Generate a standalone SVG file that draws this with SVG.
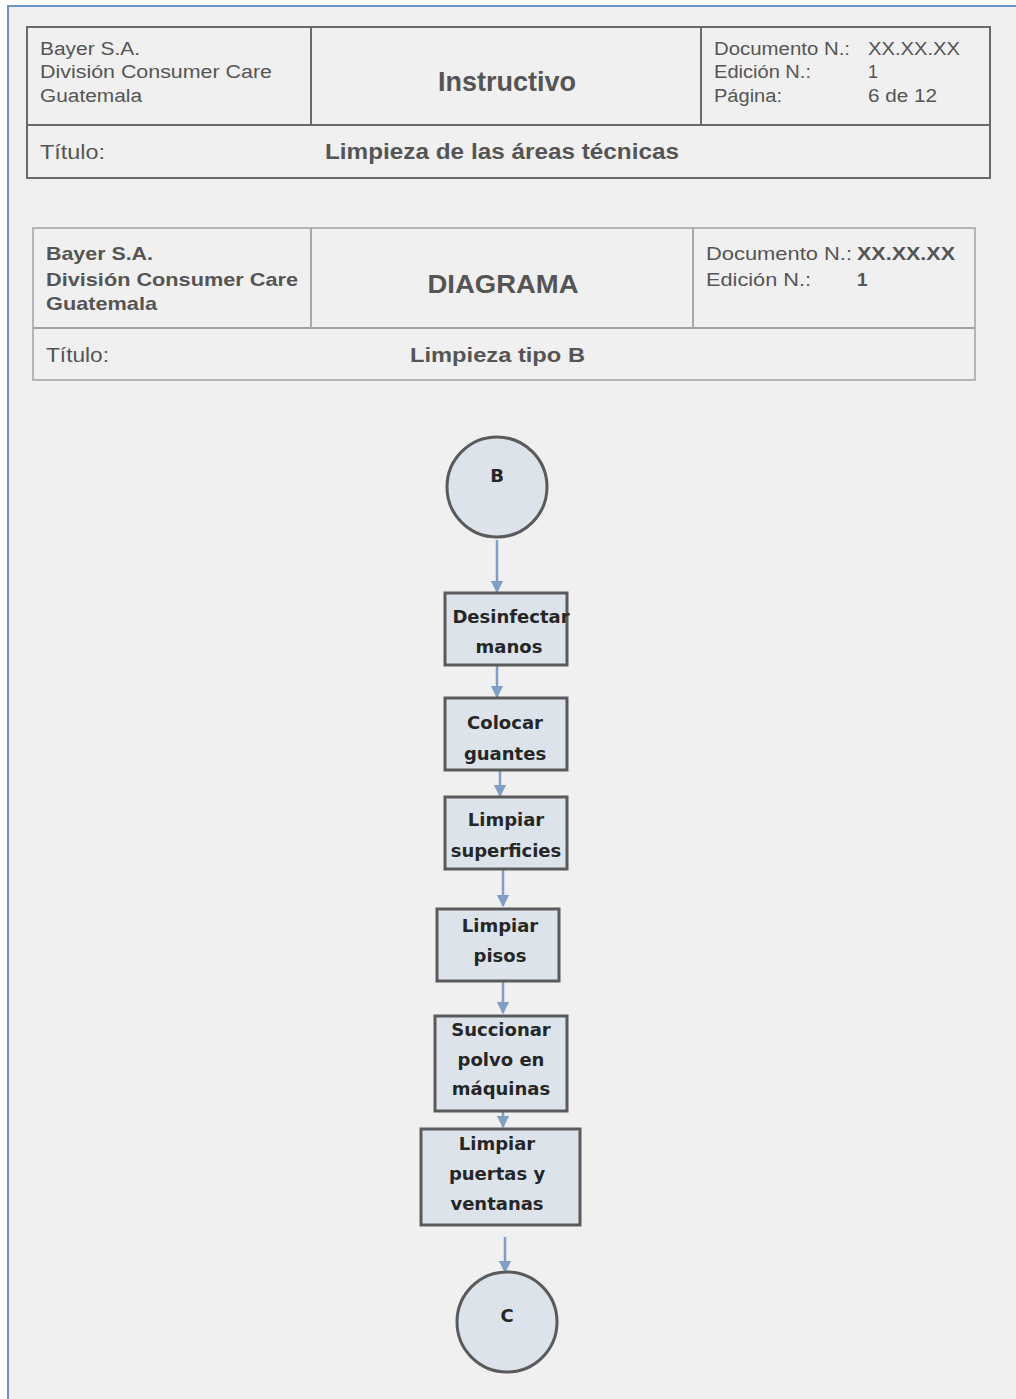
<svg xmlns="http://www.w3.org/2000/svg" width="1016" height="1399" viewBox="0 0 1016 1399">
<defs>
<style>
.hd{font-family:"Liberation Sans",Arial,sans-serif;fill:#555}
.b{font-weight:bold}
.nt{font-family:"DejaVu Sans",Verdana,sans-serif;font-weight:bold;font-size:18px;fill:#262626;text-anchor:middle}
.box{fill:#dde3ea;stroke:#5a5a5a;stroke-width:3}
.conn{stroke:#7f9fc4;stroke-width:2.5;fill:none;marker-end:url(#ah)}
</style>
<marker id="ah" viewBox="0 0 10 10" refX="9" refY="5" markerWidth="5" markerHeight="5" orient="auto" markerUnits="strokeWidth">
<path d="M0,0 L10,5 L0,10 z" fill="#7f9fc4"/>
</marker>
</defs>
<rect width="1016" height="1399" fill="#ffffff"/>
<rect x="7" y="5" width="1009" height="1394" fill="#f0f0f0"/>
<line x1="8" y1="5" x2="8" y2="1399" stroke="#6a93c8" stroke-width="2"/>
<line x1="7" y1="6" x2="1016" y2="6" stroke="#6a93c8" stroke-width="2"/>

<g id="header1">
<rect x="27" y="27" width="963" height="151" fill="#f0f0f0" stroke="#6a6a6a" stroke-width="2"/>
<line x1="27" y1="125" x2="990" y2="125" stroke="#6a6a6a" stroke-width="2"/>
<line x1="311" y1="27" x2="311" y2="125" stroke="#6a6a6a" stroke-width="2"/>
<line x1="701" y1="27" x2="701" y2="125" stroke="#6a6a6a" stroke-width="2"/>
<text class="hd" font-size="18" x="40" y="55" textLength="100" lengthAdjust="spacingAndGlyphs">Bayer S.A.</text>
<text class="hd" font-size="18" x="40" y="78" textLength="232" lengthAdjust="spacingAndGlyphs">División Consumer Care</text>
<text class="hd" font-size="18" x="40" y="102" textLength="102" lengthAdjust="spacingAndGlyphs">Guatemala</text>
<text class="hd b" font-size="27" x="507" y="91" text-anchor="middle">Instructivo</text>
<text class="hd" font-size="18" x="714" y="55" textLength="136" lengthAdjust="spacingAndGlyphs">Documento N.:</text>
<text class="hd" font-size="18" x="868" y="55" textLength="92" lengthAdjust="spacingAndGlyphs">XX.XX.XX</text>
<text class="hd" font-size="18" x="714" y="78" textLength="97" lengthAdjust="spacingAndGlyphs">Edición N.:</text>
<text class="hd" font-size="18" x="868" y="78">1</text>
<text class="hd" font-size="18" x="714" y="102" textLength="68" lengthAdjust="spacingAndGlyphs">Página:</text>
<text class="hd" font-size="18" x="868" y="102" textLength="69" lengthAdjust="spacingAndGlyphs">6 de 12</text>
<text class="hd" font-size="21" x="40" y="159" textLength="65" lengthAdjust="spacingAndGlyphs">Título:</text>
<text class="hd b" font-size="22" x="325" y="159" textLength="354" lengthAdjust="spacingAndGlyphs">Limpieza de las áreas técnicas</text>
</g>

<g id="header2">
<rect x="33" y="228" width="942" height="152" fill="#f0f0f0" stroke="#b4b4b4" stroke-width="2"/>
<line x1="33" y1="328" x2="975" y2="328" stroke="#a0a0a0" stroke-width="2"/>
<line x1="311" y1="228" x2="311" y2="328" stroke="#a8a8a8" stroke-width="2"/>
<line x1="693" y1="228" x2="693" y2="328" stroke="#a8a8a8" stroke-width="2"/>
<text class="hd b" font-size="19" x="46" y="260" textLength="107" lengthAdjust="spacingAndGlyphs">Bayer S.A.</text>
<text class="hd b" font-size="19" x="46" y="286" textLength="252" lengthAdjust="spacingAndGlyphs">División Consumer Care</text>
<text class="hd b" font-size="19" x="46" y="310" textLength="111" lengthAdjust="spacingAndGlyphs">Guatemala</text>
<text class="hd b" font-size="26" x="503" y="293" text-anchor="middle" textLength="151" lengthAdjust="spacingAndGlyphs">DIAGRAMA</text>
<text class="hd" font-size="19" x="706" y="260" textLength="146" lengthAdjust="spacingAndGlyphs">Documento N.:</text>
<text class="hd b" font-size="19" x="857" y="260" textLength="98" lengthAdjust="spacingAndGlyphs">XX.XX.XX</text>
<text class="hd" font-size="19" x="706" y="286" textLength="105" lengthAdjust="spacingAndGlyphs">Edición N.:</text>
<text class="hd b" font-size="19" x="857" y="286">1</text>
<text class="hd" font-size="20" x="46" y="362" textLength="63" lengthAdjust="spacingAndGlyphs">Título:</text>
<text class="hd b" font-size="21" x="410" y="362" textLength="175" lengthAdjust="spacingAndGlyphs">Limpieza tipo B</text>
</g>

<g id="connectors">
<line class="conn" x1="497" y1="540" x2="497" y2="592"/>
<line class="conn" x1="497" y1="665" x2="497" y2="697"/>
<line class="conn" x1="500" y1="770" x2="500" y2="796"/>
<line class="conn" x1="503" y1="869" x2="503" y2="906"/>
<line class="conn" x1="503" y1="981" x2="503" y2="1013"/>
<line class="conn" x1="503" y1="1100" x2="503" y2="1127"/>
<line class="conn" x1="505" y1="1237" x2="505" y2="1272"/>
</g>

<g id="nodeB">
<circle class="box" cx="497" cy="487" r="50"/>
<text class="nt" x="497" y="482">B</text>
</g>
<g id="node1">
<rect class="box" x="445" y="593" width="122" height="72"/>
<text class="nt" x="511" y="623">Desinfectar</text>
<text class="nt" x="509" y="653">manos</text>
</g>
<g id="node2">
<rect class="box" x="445" y="698" width="122" height="72"/>
<text class="nt" x="505" y="729">Colocar</text>
<text class="nt" x="505" y="760">guantes</text>
</g>
<g id="node3">
<rect class="box" x="445" y="797" width="122" height="72"/>
<text class="nt" x="506" y="826">Limpiar</text>
<text class="nt" x="506" y="857">superficies</text>
</g>
<g id="node4">
<rect class="box" x="437" y="909" width="122" height="72"/>
<text class="nt" x="500" y="932">Limpiar</text>
<text class="nt" x="500" y="962">pisos</text>
</g>
<g id="node5">
<rect class="box" x="435" y="1016" width="132" height="95"/>
<text class="nt" x="501" y="1036">Succionar</text>
<text class="nt" x="501" y="1066">polvo en</text>
<text class="nt" x="501" y="1095">máquinas</text>
</g>
<g id="node6">
<rect class="box" x="421" y="1129" width="159" height="96"/>
<text class="nt" x="497" y="1150">Limpiar</text>
<text class="nt" x="497" y="1180">puertas y</text>
<text class="nt" x="497" y="1210">ventanas</text>
</g>
<g id="nodeC">
<circle class="box" cx="507" cy="1322" r="50"/>
<text class="nt" x="507" y="1322">C</text>
</g>
</svg>
